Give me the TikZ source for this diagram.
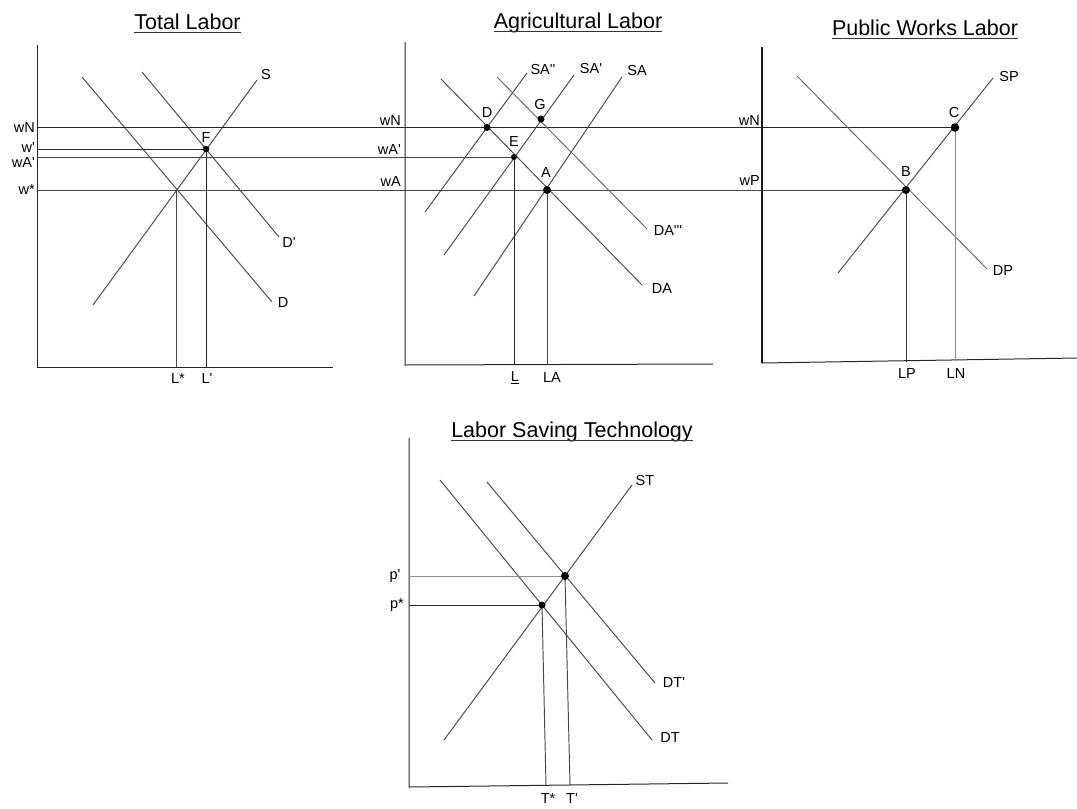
\documentclass[tikz,border=0pt]{standalone}
\usepackage{fontspec}
\setmainfont{Liberation Sans}[Ligatures=TeXOff]
\begin{document}
\begin{tikzpicture}[x=1pt,y=-1pt,
  ax/.style={line width=1pt,draw=black!85},
  crv/.style={line width=0.95pt,draw=black!72},
  lt/.style={line width=0.9pt,draw=black!45},
  lab/.style={font=\fontsize{14.5}{16}\selectfont,inner sep=0pt},
  ttl/.style={font=\fontsize{21.5}{24}\selectfont,inner sep=0pt,anchor=base},
  uline/.style={line width=1pt,draw=black!80},
  dot/.style={circle,fill=black,inner sep=0pt}]
\useasboundingbox (0,0) rectangle (1077,809);

% ---------------- titles
\node[ttl] (t1) at (187.5,29) {Total Labor};
\node[ttl] (t2) at (578,28) {Agricultural Labor};
\node[ttl] (t3) at (925,35) {Public Works Labor};
\node[ttl] (t4) at (572,437) {Labor Saving Technology};
\foreach \t in {t1,t2,t3,t4}{
  \draw[uline] ([yshift=-3pt]\t.base west) -- ([yshift=-3pt]\t.base east);}

% ---------------- points
\coordinate (F) at (206,149);
\coordinate (D) at (487,127.5);
\coordinate (G) at (541,119);
\coordinate (E) at (514,157);
\coordinate (A) at (547,190);
\coordinate (B) at (906,190);
\coordinate (C) at (955,127.5);
\coordinate (Tp) at (565,576);
\coordinate (Ts) at (542,605);
\coordinate (Q) at (176,190);

% ---------------- Panel 1: Total Labor
\coordinate (y1t) at (37,45); \coordinate (o1) at (37,367); \coordinate (x1r) at (333,367);
\draw[ax] (y1t) -- (o1) -- (x1r);
\coordinate (S1) at (93,305);  \coordinate (S2) at (257,80);
\coordinate (D1) at (82,77);   \coordinate (D2) at (272,302);
\coordinate (Dp1) at (142,72); \coordinate (Dp2) at (279,237);
\draw[crv] (S1) -- (S2);
\draw[crv] (D1) -- (D2);
\draw[crv] (Dp1) -- (Dp2);
\coordinate (wNl) at (37,127.5); \coordinate (wpl) at (37,149);
\coordinate (wAl) at (37,157);   \coordinate (wsl) at (37,190);
\coordinate (Lsb) at (176,367);  \coordinate (Lpb) at (206,367);
\draw[crv,draw=black!85] (wNl) -- (C);
\draw[crv,draw=black!85] (wpl) -- (F);
\draw[crv] (wAl) -- (E);
\draw[crv] (wsl) -- (B);
\draw[crv] (Q) -- (Lsb);
\draw[crv,draw=black!85] (F) -- (Lpb);
\node[lab,anchor=east] (lwN1) at (35,128) {wN};
\node[lab,anchor=east] (lwp1) at (35,147.5) {w'};
\node[lab,anchor=east] (lwA1) at (35,163) {wA'};
\node[lab,anchor=east] (lws1) at (35,190) {w*};
\node[lab] (lS) at (266,75) {S};
\node[lab] (lD) at (283,303) {D};
\node[lab] (lDp) at (289,243) {D'};
\node[lab] (lF) at (206,138) {F};
\node[lab] (lLs) at (178,379) {L*};
\node[lab] (lLp) at (207,379) {L'};

% ---------------- Panel 2: Agricultural Labor
\coordinate (y2t) at (405,42); \coordinate (o2) at (405,365); \coordinate (x2r) at (713,364);
\draw[ax] (y2t) -- (o2) -- (x2r);
\coordinate (SAa1) at (425,212); \coordinate (SAa2) at (527,73);
\coordinate (SAb1) at (444,255); \coordinate (SAb2) at (574,75);
\coordinate (SAc1) at (474,296); \coordinate (SAc2) at (622,77);
\coordinate (DA1) at (441,79);   \coordinate (DA2) at (642,285);
\coordinate (DAx1) at (497,77);  \coordinate (DAx2) at (647,229);
\draw[crv] (SAa1) -- (SAa2);
\draw[crv] (SAb1) -- (SAb2);
\draw[crv] (SAc1) -- (SAc2);
\draw[crv] (DA1) -- (DA2);
\draw[crv,draw=black!60] (DAx1) -- (DAx2);
\coordinate (Lb) at (514,365); \coordinate (LAb) at (547,365);
\draw[crv,draw=black!85] (E) -- (Lb);
\draw[crv] (A) -- (LAb);
\node[lab,anchor=east] (lwN2) at (401,121) {wN};
\node[lab,anchor=east] (lwA2p) at (401,150) {wA'};
\node[lab,anchor=east] (lwA2) at (401,182) {wA};
\node[lab] (lDd) at (487,113) {D};
\node[lab] (lG) at (540,105) {G};
\node[lab] (lE) at (514,142) {E};
\node[lab] (lA) at (546,173) {A};
\node[lab] (lSAa) at (543,70) {SA''};
\node[lab] (lSAb) at (591,69) {SA'};
\node[lab] (lSAc) at (637,71) {SA};
\node[lab] (lDAx) at (668,231) {DA'''};
\node[lab] (lDA) at (662,289) {DA};
\node[lab] (lL) at (515,378) {\underline{L}};
\node[lab] (lLA) at (552,378) {LA};

% ---------------- Panel 3: Public Works Labor
\coordinate (y3t) at (762,47); \coordinate (o3) at (762,363); \coordinate (x3r) at (1077,358);
\draw[ax,line width=1.2pt,draw=black!90] (y3t) -- (o3);
\draw[ax] (o3) -- (x3r);
\coordinate (SP1) at (838,273); \coordinate (SP2) at (993,78);
\coordinate (DP1) at (797,76);  \coordinate (DP2) at (987,269);
\draw[crv] (SP1) -- (SP2);
\draw[crv,draw=black!60] (DP1) -- (DP2);
\coordinate (LPb) at (906,362); \coordinate (LNb) at (955,361);
\draw[crv,draw=black!80] (B) -- (LPb);
\draw[lt] (C) -- (LNb);
\node[lab,anchor=east] (lwN3) at (760,121) {wN};
\node[lab,anchor=east] (lwP3) at (760,181) {wP};
\node[lab] (lC) at (954,113) {C};
\node[lab] (lB) at (906,172) {B};
\node[lab] (lSP) at (1009,77) {SP};
\node[lab] (lDP) at (1003,271) {DP};
\node[lab] (lLP) at (907,374) {LP};
\node[lab] (lLN) at (956,374) {LN};

% ---------------- Panel 4: Labor Saving Technology
\coordinate (y4t) at (409,438); \coordinate (o4) at (409,787); \coordinate (x4r) at (728,783);
\draw[ax] (y4t) -- (o4) -- (x4r);
\coordinate (ST1) at (444,740); \coordinate (ST2) at (632,485);
\coordinate (DT1) at (440,480); \coordinate (DT2) at (652,740);
\coordinate (DTp1) at (487,482); \coordinate (DTp2) at (655,683);
\draw[crv] (ST1) -- (ST2);
\draw[crv] (DT1) -- (DT2);
\draw[crv] (DTp1) -- (DTp2);
\coordinate (ppl) at (409,576); \coordinate (psl) at (409,605);
\draw[lt] (ppl) -- (Tp);
\draw[crv,draw=black!85] (psl) -- (Ts);
\coordinate (Tsb) at (546,786); \coordinate (Tpb) at (570,785);
\draw[crv] (Ts) -- (Tsb);
\draw[crv] (Tp) -- (Tpb);
\node[lab] (lpp) at (395,576) {p'};
\node[lab] (lps) at (397,605) {p*};
\node[lab] (lST) at (645,481) {ST};
\node[lab] (lDTp) at (674,683) {DT'};
\node[lab] (lDT) at (670,738) {DT};
\node[lab] (lTs) at (548,799) {T*};
\node[lab] (lTp) at (572,799) {T'};

% ---------------- dots on top
\node[dot,minimum size=6.5pt] (Fd) at (F) {};
\node[dot,minimum size=7pt] (Dd) at (D) {};
\node[dot,minimum size=7pt] (Gd) at (G) {};
\node[dot,minimum size=6pt] (Ed) at (E) {};
\node[dot,minimum size=8pt] (Ad) at (A) {};
\node[dot,minimum size=8pt] (Bd) at (B) {};
\node[dot,minimum size=8.5pt] (Cd) at (C) {};
\node[dot,minimum size=8pt] (Tpd) at (Tp) {};
\node[dot,minimum size=7pt] (Tsd) at (Ts) {};
\end{tikzpicture}
\end{document}
